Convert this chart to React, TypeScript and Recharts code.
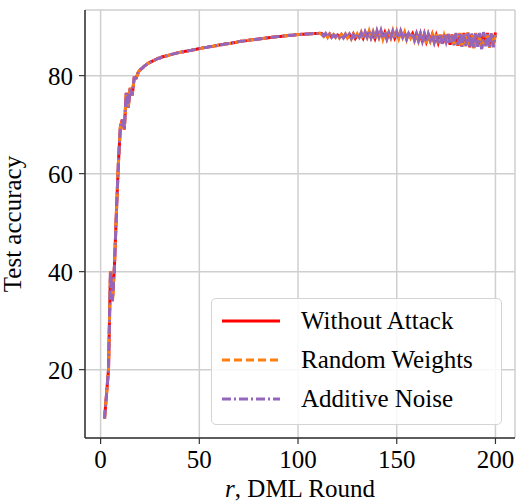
import React from "react";
import {
  LineChart,
  Line,
  XAxis,
  YAxis,
  CartesianGrid,
} from "recharts";

// rounds 2..200
const FIRST_ROUND = 2;

// shared warm-up phase, rounds 2..111 (all three runs overlap here)
const warmup = [
  10, 15, 20, 40, 34, 41, 52, 62, 69.5,
  71, 69, 76.5, 73.5, 77.5, 76, 79.5, 79.5, 80.6, 81.2,
  81.5, 81.9, 82.2, 82.5, 82.7, 82.9, 83.1, 83.3, 83.5, 83.6,
  83.8, 83.9, 84.0, 84.1, 84.25, 84.35, 84.45, 84.55, 84.65, 84.75,
  84.85, 84.9, 85.0, 85.05, 85.15, 85.2, 85.3, 85.35, 85.45, 85.55,
  85.6, 85.7, 85.75, 85.8, 85.9, 85.95, 86.0, 86.1, 86.15, 86.25,
  86.3, 86.35, 86.45, 86.5, 86.55, 86.6, 86.7, 86.75, 86.85, 86.95,
  87.0, 87.05, 87.1, 87.15, 87.25, 87.3, 87.35, 87.4, 87.45, 87.5,
  87.55, 87.6, 87.65, 87.7, 87.75, 87.8, 87.85, 87.9, 87.95, 88.0,
  88.0, 88.05, 88.1, 88.15, 88.2, 88.25, 88.25, 88.3, 88.35, 88.4,
  88.4, 88.45, 88.45, 88.5, 88.5, 88.55, 88.55, 88.6, 88.6, 88.6, 88.65,
];

// rounds 112..200
const withoutAttackTail = [
  88.6, 88.2, 88.5, 88.0, 88.5, 87.9, 88.2, 88.0, 88.3,
  87.9, 88.4, 87.8, 88.3, 87.8, 88.4, 87.7, 88.5, 87.6, 88.2,
  87.9, 88.6, 87.7, 88.8, 88.0, 88.9, 87.8, 88.7, 87.6, 88.9,
  88.0, 89.0, 87.7, 88.8, 87.6, 88.8, 87.9, 88.9, 87.7, 88.7,
  87.8, 88.9, 88.0, 88.7, 87.6, 88.5, 87.9, 88.6, 87.4, 88.6,
  87.3, 88.5, 86.9, 88.5, 87.0, 88.3, 87.2, 88.4, 86.9, 88.2,
  86.8, 88.3, 86.6, 88.4, 86.7, 88.5, 86.3, 88.4, 86.4, 88.5,
  86.1, 88.6, 86.0, 88.7, 86.3, 88.7, 85.8, 88.4, 85.7, 88.6,
  86.1, 88.5, 85.6, 88.6, 86.2, 88.7, 85.9, 88.4, 86.5, 88.8,
];

const randomWeightsTail = [
  88.4, 88.0, 88.6, 87.8, 88.5, 87.9, 88.4, 87.8, 88.5,
  87.7, 88.4, 87.8, 88.5, 87.7, 88.4, 87.5, 88.4, 87.6, 88.5,
  87.7, 88.8, 87.5, 88.7, 87.8, 89.1, 87.6, 88.9, 87.5, 89.0,
  87.8, 89.1, 87.5, 89.0, 87.6, 88.8, 87.7, 89.1, 87.5, 89.0,
  87.6, 89.0, 87.8, 88.9, 87.4, 88.7, 87.7, 88.8, 87.2, 88.4,
  87.1, 88.7, 86.9, 88.3, 86.6, 88.4, 87.1, 88.3, 86.7, 88.5,
  86.6, 88.4, 86.6, 88.2, 86.8, 88.7, 86.5, 88.3, 86.3, 88.6,
  86.2, 88.7, 86.1, 88.5, 86.0, 88.8, 85.8, 88.5, 85.6, 88.7,
  86.0, 88.6, 85.5, 88.8, 86.1, 88.4, 85.7, 88.6, 86.0, 88.5,
];

const additiveNoiseTail = [
  88.5, 88.1, 88.6, 87.9, 88.4, 87.8, 88.3, 87.9, 88.4,
  87.8, 88.3, 87.7, 88.4, 87.9, 88.5, 87.6, 88.3, 87.5, 88.4,
  87.8, 88.7, 87.6, 88.9, 87.9, 89.0, 87.7, 88.8, 87.4, 89.1,
  87.9, 89.2, 87.6, 88.9, 87.5, 88.7, 87.8, 89.0, 87.6, 88.9,
  87.7, 89.1, 87.9, 88.8, 87.5, 88.6, 87.8, 88.7, 87.3, 88.5,
  87.2, 88.6, 87.0, 88.4, 86.9, 88.5, 87.3, 88.2, 86.8, 88.4,
  86.7, 88.5, 86.5, 88.3, 86.9, 88.6, 86.4, 88.2, 86.2, 88.7,
  86.3, 88.8, 85.9, 88.4, 86.1, 88.9, 85.7, 88.6, 85.5, 88.8,
  85.9, 88.7, 85.4, 88.9, 86.0, 88.5, 85.6, 88.7, 85.8, 88.2,
];

const withoutAttack = [...warmup, ...withoutAttackTail];
const randomWeights = [...warmup, ...randomWeightsTail];
const additiveNoise = [...warmup, ...additiveNoiseTail];

const xTicks = [0, 50, 100, 150, 200];
const yTicks = [20, 40, 60, 80];

const series = [
  { key: "withoutAttack", name: "Without Attack", color: "#ff0000", dash: undefined },
  { key: "randomWeights", name: "Random Weights", color: "#ff7f0e", dash: "8 4" },
  { key: "additiveNoise", name: "Additive Noise", color: "#9467bd", dash: "9 3 2 3" },
];

const data = withoutAttack.map((v, i) => ({
  r: FIRST_ROUND + i,
  withoutAttack: v,
  randomWeights: randomWeights[i],
  additiveNoise: additiveNoise[i],
}));

const FONT = "'Liberation Serif', 'Times New Roman', Times, serif";
const SPINE = "#333333";

function LegendBox() {
  return (
    <div
      style={{
        position: "absolute",
        left: 211,
        top: 298,
        width: 291,
        height: 127,
        boxSizing: "border-box",
        border: "1px solid #d4d4d4",
        borderRadius: 5,
        background: "rgba(255,255,255,0.85)",
        padding: "2px 0 0 9px",
        fontFamily: FONT,
        fontSize: 25,
        lineHeight: "39px",
        color: "#000",
      }}
    >
      {series.map((s) => (
        <div key={s.key} style={{ display: "flex", alignItems: "center", height: 39 }}>
          <svg width={60} height={10} style={{ marginRight: 20 }}>
            <line
              x1={1}
              y1={5}
              x2={59}
              y2={5}
              stroke={s.color}
              strokeWidth={3}
              strokeDasharray={s.dash}
            />
          </svg>
          <span>{s.name}</span>
        </div>
      ))}
    </div>
  );
}

function XLabel(props: any) {
  const vb = props.viewBox || {};
  const cx = vb.x + vb.width / 2;
  return (
    <text x={cx} y={497} textAnchor="middle" fontFamily={FONT} fontSize={25} fill="#000">
      <tspan fontStyle="italic">r</tspan>
      <tspan>, DML Round</tspan>
    </text>
  );
}

export default function App() {
  return (
    <div style={{ position: "absolute", left: 0, top: 0, width: 518, height: 504, background: "#fff" }}>
      <LineChart
        width={518}
        height={504}
        data={data}
        margin={{ top: 10, right: 3, bottom: 0, left: 0 }}
        style={{ fontFamily: FONT }}
      >
        <CartesianGrid stroke="#cfcfcf" strokeWidth={1.5} horizontal vertical />
        <XAxis
          dataKey="r"
          type="number"
          domain={[-7.9, 209.9]}
          ticks={xTicks}
          height={66}
          tickSize={6}
          tickMargin={6}
          tick={{ fontSize: 25, fontFamily: FONT, fill: "#000" }}
          tickLine={{ stroke: SPINE, strokeWidth: 1.2 }}
          axisLine={{ stroke: SPINE, strokeWidth: 1.5 }}
          allowDataOverflow
          label={<XLabel />}
        />
        <XAxis
          xAxisId="top"
          orientation="top"
          dataKey="r"
          type="number"
          domain={[-7.9, 209.9]}
          height={0}
          tick={false}
          tickLine={false}
          axisLine={{ stroke: SPINE, strokeWidth: 1.5 }}
        />
        <YAxis
          type="number"
          domain={[6.05, 93.4]}
          ticks={yTicks}
          width={85}
          tickSize={6}
          tickMargin={6}
          tick={{ fontSize: 25, fontFamily: FONT, fill: "#000" }}
          tickLine={{ stroke: SPINE, strokeWidth: 1.2 }}
          axisLine={{ stroke: SPINE, strokeWidth: 1.5 }}
          allowDataOverflow
          label={{
            value: "Test accuracy",
            angle: -90,
            position: "insideLeft",
            offset: 12,
            style: { fontSize: 25, fontFamily: FONT, fill: "#000", textAnchor: "middle" },
          }}
        />
        <YAxis
          yAxisId="right"
          orientation="right"
          type="number"
          domain={[6.05, 93.4]}
          width={0}
          tick={false}
          tickLine={false}
          axisLine={{ stroke: SPINE, strokeWidth: 1.5 }}
        />
        {series.map((s) => (
          <Line
            key={s.key}
            type="linear"
            dataKey={s.key}
            name={s.name}
            stroke={s.color}
            strokeWidth={3}
            strokeDasharray={s.dash}
            dot={false}
            activeDot={false}
            isAnimationActive={false}
          />
        ))}
      </LineChart>
      <LegendBox />
    </div>
  );
}
